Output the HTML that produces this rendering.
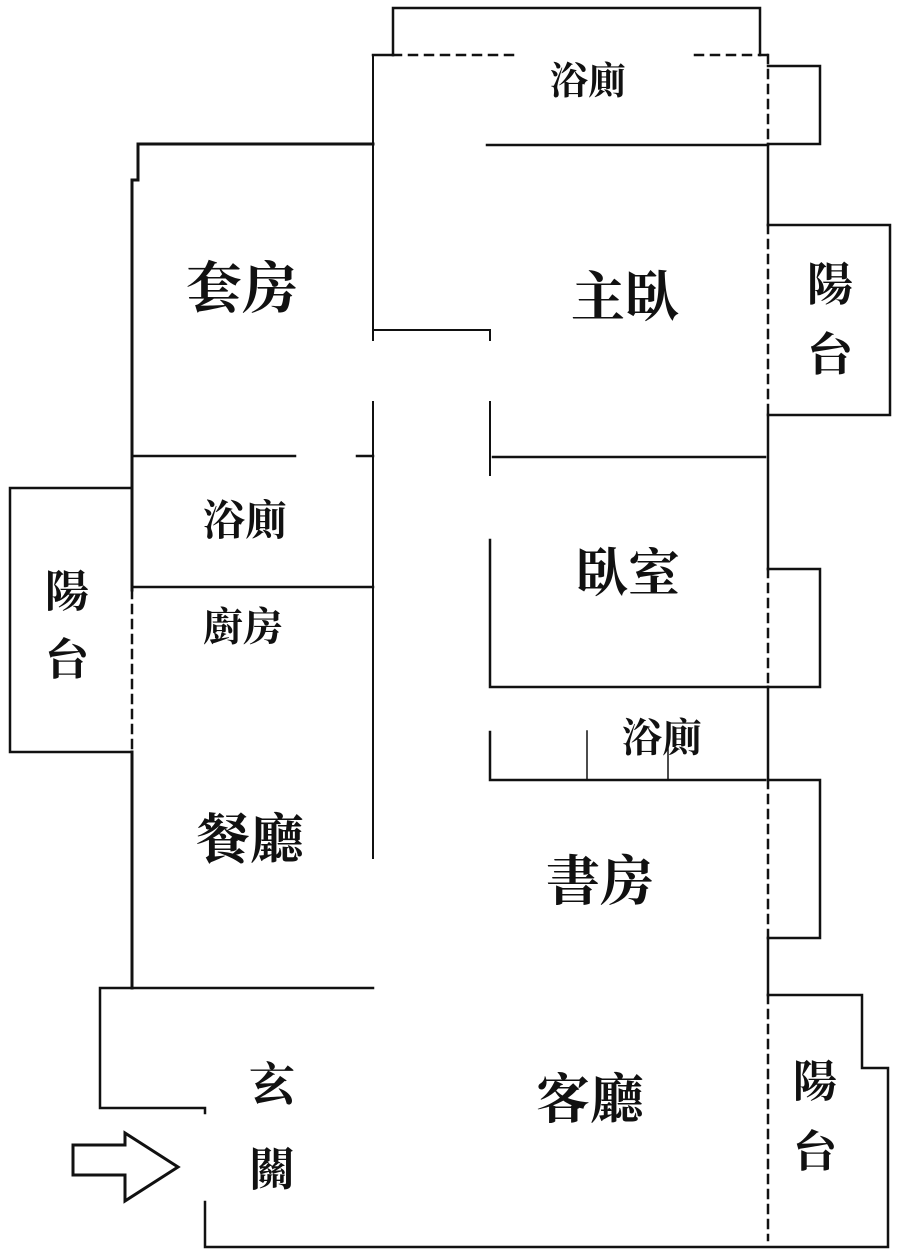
<!DOCTYPE html>
<html><head><meta charset="utf-8"><style>
html,body{margin:0;padding:0;background:#fff;}
svg{display:block}
text{font-family:"Liberation Serif","Noto Serif CJK SC","Noto Sans CJK TC",serif;fill:#111;text-anchor:middle;dominant-baseline:central;font-weight:bold}
</style></head><body>
<svg width="900" height="1255" viewBox="0 0 900 1255" xmlns="http://www.w3.org/2000/svg">
<g stroke="#111" stroke-width="2.5" fill="none" stroke-linecap="square">
<polyline points="393,55 393,8 760,8 760,55"/>
<line x1="373" y1="55" x2="393" y2="55"/>
<line x1="393" y1="55" x2="515" y2="55" stroke-dasharray="8,8"/>
<line x1="695" y1="55" x2="770" y2="55" stroke-dasharray="8,8"/>
<line x1="768" y1="55" x2="768" y2="144" stroke-dasharray="8,7"/>
<polyline points="768,66 820,66 820,144 768,144"/>
<line x1="768" y1="144" x2="768" y2="225"/>
<polyline points="768,225 890,225 890,415 768,415"/>
<line x1="768" y1="225" x2="768" y2="415" stroke-dasharray="8,7"/>
<line x1="768" y1="415" x2="768" y2="569"/>
<polyline points="768,569 820,569 820,687 768,687"/>
<line x1="768" y1="569" x2="768" y2="687" stroke-dasharray="8,7"/>
<line x1="768" y1="687" x2="768" y2="780"/>
<polyline points="768,780 820,780 820,938 768,938"/>
<line x1="768" y1="780" x2="768" y2="938" stroke-dasharray="8,7"/>
<line x1="768" y1="938" x2="768" y2="995"/>
<polyline points="768,995 862,995 862,1068 888,1068 888,1247 205,1247 205,1202"/>
<line x1="768" y1="995" x2="768" y2="1240" stroke-dasharray="8,7"/>
<line x1="487" y1="145" x2="768" y2="145"/>
<polyline points="373,144 138,144 138,180 132,180 132,590" stroke-width="3"/>
<line x1="132" y1="752" x2="132" y2="988" stroke-width="3"/>
<line x1="373" y1="55" x2="373" y2="340" stroke-width="2"/>
<polyline points="373,330 490,330 490,340" stroke-width="2"/>
<line x1="373" y1="402" x2="373" y2="858" stroke-width="2"/>
<line x1="490" y1="402" x2="490" y2="475" stroke-width="2"/>
<line x1="132" y1="456" x2="295" y2="456"/>
<line x1="357" y1="456" x2="373" y2="456"/>
<line x1="493" y1="457" x2="765" y2="457"/>
<polyline points="132,488 10,488 10,752 132,752"/>
<line x1="132" y1="590" x2="132" y2="752" stroke-dasharray="8,7"/>
<line x1="132" y1="587" x2="373" y2="587"/>
<polyline points="490,540 490,687 768,687"/>
<polyline points="490,732 490,780 765,780"/>
<line x1="587" y1="731" x2="587" y2="780" stroke-width="1.5"/>
<line x1="668" y1="741" x2="668" y2="780" stroke-width="1.5"/>
<polyline points="373,988 100,988 100,1108 205,1108 205,1113"/>
<polygon points="73,1145 125,1145 125,1133 178,1167 125,1201 125,1175 73,1175" stroke-width="3" stroke-linejoin="miter"/>
</g>
<g>
<text x="588" y="82" font-size="38">浴廁</text>
<text x="242" y="290" font-size="56">套房</text>
<text x="625" y="298" font-size="54">主臥</text>
<text x="830" y="285" font-size="46">陽</text>
<text x="830" y="355" font-size="46">台</text>
<text x="245" y="522" font-size="42">浴廁</text>
<text x="67" y="592" font-size="44">陽</text>
<text x="67" y="660" font-size="44">台</text>
<text x="243" y="627" font-size="40">廚房</text>
<text x="250" y="840" font-size="54">餐廳</text>
<text x="628" y="575" font-size="52">臥室</text>
<text x="662" y="738" font-size="40">浴廁</text>
<text x="600" y="882" font-size="54">書房</text>
<text x="590" y="1100" font-size="54">客廳</text>
<text x="272" y="1085" font-size="46">玄</text>
<text x="272" y="1170" font-size="46">關</text>
<text x="815" y="1082" font-size="44">陽</text>
<text x="815" y="1152" font-size="44">台</text>
</g>
</svg>
</body></html>
